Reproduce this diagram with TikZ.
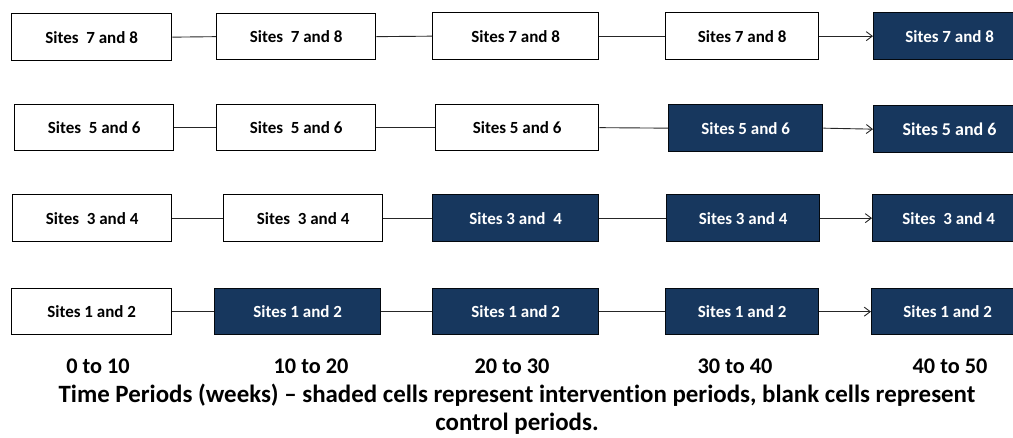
\documentclass[tikz,border=0pt]{standalone}
\usepackage{fontspec}
\setmainfont{Carlito}[Ligatures=NoCommon]
\usetikzlibrary{arrows.meta}
\definecolor{navy}{RGB}{23,55,94}
\begin{document}
\begin{tikzpicture}[x=1pt,y=-1pt,
  cell/.style={draw=black, line width=1.3pt, inner sep=0pt, anchor=north west,
    font=\bfseries\fontsize{17}{19}\selectfont, text=black},
  shaded/.style={cell, fill=navy, draw=black!85!navy, text=white},
  link/.style={line width=0.9pt, draw=black!85},
  arr/.style={link, -{Straight Barb[length=6pt,width=9pt,line width=0.9pt]}},
  period/.style={font=\bfseries\fontsize{22.3}{24}\selectfont},
  caption/.style={font=\bfseries\fontsize{24.9}{26}\selectfont}]
\clip (0,0) rectangle (1013,437);
% row 1
\node[cell,   minimum width=160pt, minimum height=47pt] (a1) at (11,13)  {Sites\ \ 7 and 8};
\node[cell,   minimum width=159pt, minimum height=46pt] (a2) at (216,13) {Sites\ \ 7 and 8};
\node[cell,   minimum width=166pt, minimum height=47pt] (a3) at (432,12) {Sites 7 and 8};
\node[cell,   minimum width=153pt, minimum height=47pt] (a4) at (665,12) {Sites 7 and 8};
\node[shaded, minimum width=152pt, minimum height=47pt] (a5) at (873,12) {Sites 7 and 8};
% row 2
\node[cell,   minimum width=159pt, minimum height=46pt] (b1) at (14,104)  {Sites\ \ 5 and 6};
\node[cell,   minimum width=159pt, minimum height=46pt] (b2) at (216,104) {Sites\ \ 5 and 6};
\node[cell,   minimum width=163pt, minimum height=46pt] (b3) at (435,104) {Sites 5 and 6};
\node[shaded, minimum width=154pt, minimum height=47pt] (b4) at (668,104) {Sites 5 and 6};
\node[shaded, minimum width=152pt, minimum height=47pt, font=\bfseries\fontsize{18}{20}\selectfont] (b5) at (873,105) {Sites 5 and 6};
% row 3
\node[cell,   minimum width=159pt, minimum height=47pt] (c1) at (12,194)  {Sites\ \ 3 and 4};
\node[cell,   minimum width=159pt, minimum height=47pt] (c2) at (223,194) {Sites\ \ 3 and 4};
\node[shaded, minimum width=166pt, minimum height=47pt] (c3) at (432,194) {Sites 3 and\ \ 4};
\node[shaded, minimum width=153pt, minimum height=47pt] (c4) at (666,194) {Sites 3 and 4};
\node[shaded, minimum width=152pt, minimum height=47pt] (c5) at (872,194) {Sites\ \ 3 and 4};
% row 4
\node[cell,   minimum width=160pt, minimum height=46pt] (d1) at (11,288)  {Sites 1 and 2};
\node[shaded, minimum width=166pt, minimum height=46pt] (d2) at (214,288) {Sites 1 and 2};
\node[shaded, minimum width=166pt, minimum height=46pt] (d3) at (432,288) {Sites 1 and 2};
\node[shaded, minimum width=153pt, minimum height=46pt] (d4) at (665,288) {Sites 1 and 2};
\node[shaded, minimum width=152pt, minimum height=46pt] (d5) at (871,288) {Sites 1 and 2};
% connectors
\foreach \r in {a,b,c,d}{
  \draw[link] (\r1.east) -- (\r2.west);
  \draw[link] (\r2.east) -- (\r3.west);
  \draw[link] (\r3.east) -- (\r4.west);
  \draw[arr]  (\r4.east) -- (\r5.west);
}
% period labels
\node[period] (p1) at (98,366)  {0 to 10};
\node[period] (p2) at (311,366) {10 to 20};
\node[period] (p3) at (512,366) {20 to 30};
\node[period] (p4) at (735,366) {30 to 40};
\node[period] (p5) at (950,366) {40 to 50};
% caption
\node[caption] (cap1) at (517,395) {Time Periods (weeks) -- shaded cells represent intervention periods, blank cells represent};
\node[caption] (cap2) at (517,424) {control periods.};
\end{tikzpicture}
\end{document}
